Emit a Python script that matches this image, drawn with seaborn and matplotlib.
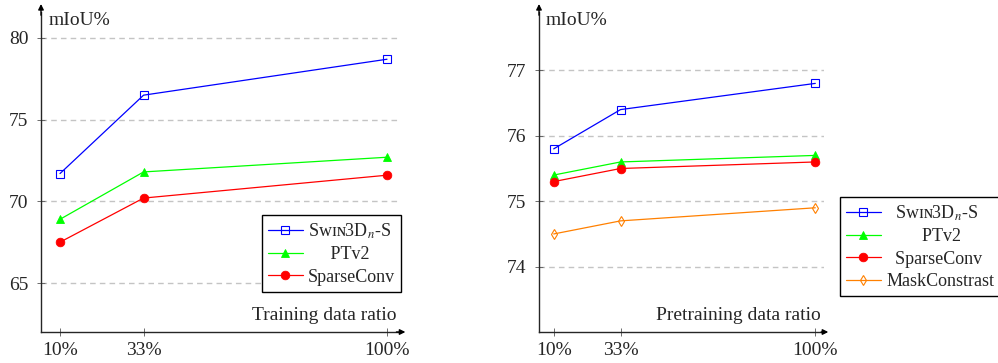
import numpy as np
import pandas as pd
import matplotlib
matplotlib.use("Agg")
import matplotlib.pyplot as plt
import seaborn as sns

# ---------------- data ----------------
ratio_ticks = [10, 33, 100]
ratio_labels = ["10%", "33%", "100%"]

# left panel: training data ratio
train_swin = [71.7, 76.5, 78.7]
train_ptv2 = [68.9, 71.8, 72.7]
train_sparse = [67.5, 70.2, 71.6]

# right panel: pretraining data ratio
pre_swin = [75.8, 76.4, 76.8]
pre_ptv2 = [75.4, 75.6, 75.7]
pre_sparse = [75.3, 75.5, 75.6]
pre_mask = [74.5, 74.7, 74.9]

left_yticks = [65, 70, 75, 80]
right_yticks = [74, 75, 76, 77]

name_swin = "S\u1d21\u026a\u0274" + "3D$_n$-S"
name_ptv2 = "PTv2"
name_sparse = "SparseConv"
name_mask = "MaskConstrast"

# ---------------- style ----------------
sns.set_style("ticks")
plt.rcParams["font.family"] = ["Liberation Serif", "DejaVu Serif"]
plt.rcParams["mathtext.fontset"] = "stix"
plt.rcParams["axes.linewidth"] = 1.0

W, H = 998, 363
fig = plt.figure(figsize=(W / 100, H / 100), dpi=100)


def px_axes(x0, x1, y0, y1):
    # y0 top, y1 bottom in pixels
    return fig.add_axes([x0 / W, 1 - y1 / H, (x1 - x0) / W, (y1 - y0) / H])


STY = {
    "swin": dict(color="#0000ff", marker="s", markersize=5.8, markerfacecolor="none",
                 markeredgecolor="#0000ff", markeredgewidth=0.8),
    "ptv2": dict(color="#00ff00", marker="^", markersize=6.2, markerfacecolor="#00ff00",
                 markeredgecolor="#00ff00", markeredgewidth=0.6),
    "sparse": dict(color="#ff0000", marker="o", markersize=6.2, markerfacecolor="#ff0000",
                   markeredgecolor="#ff0000", markeredgewidth=0.6),
    "mask": dict(color="#ff8000", marker="d", markersize=5.0, markerfacecolor="none",
                 markeredgecolor="#ff8000", markeredgewidth=0.8),
}


def draw_series(ax, y, label, key):
    df = pd.DataFrame({"ratio": ratio_ticks, "miou": y})
    sns.lineplot(data=df, x="ratio", y="miou", ax=ax, label=label, sort=False,
                 estimator=None, linewidth=0.9, **STY[key])


def style_axes(ax, yticks, xlabel):
    ax.set_xticks(ratio_ticks)
    ax.set_xticklabels(ratio_labels)
    ax.set_yticks(yticks)
    ax.set_xlabel("")
    ax.set_ylabel("")
    for s in ["top", "right"]:
        ax.spines[s].set_visible(False)
    ax.tick_params(axis="both", direction="inout", length=6, width=0.6,
                   color="#555555", labelsize=14)
    ax.tick_params(axis="x", pad=4)
    ax.tick_params(axis="y", pad=6)
    for yv in yticks:
        ax.axhline(yv, color="#c4c4c4", lw=1.0, dashes=(4, 3), zorder=0)
    # arrows on axes
    ax.annotate("", xy=(1.015, 0), xytext=(0.99, 0), xycoords="axes fraction",
                arrowprops=dict(arrowstyle="-|>", color="black", lw=1.0,
                                mutation_scale=8, shrinkA=0, shrinkB=0),
                annotation_clip=False)
    ax.annotate("", xy=(0, 1.025), xytext=(0, 0.99), xycoords="axes fraction",
                arrowprops=dict(arrowstyle="-|>", color="black", lw=1.0,
                                mutation_scale=8, shrinkA=0, shrinkB=0),
                annotation_clip=False)
    ax.text(0.022, 1.0, "mIoU%", transform=ax.transAxes, fontsize=14,
            ha="left", va="top")
    ax.text(0.99, 0.025, xlabel, transform=ax.transAxes, fontsize=14,
            ha="right", va="bottom")


# ---------------- left panel ----------------
axL = px_axes(41, 400, 12, 332)
draw_series(axL, train_swin, name_swin, "swin")
draw_series(axL, train_ptv2, "     " + name_ptv2, "ptv2")
draw_series(axL, train_sparse, name_sparse, "sparse")
kL = (387 - 60) / 90.0
axL.set_xlim(10 - (60 - 41) / kL, 10 + (400 - 60) / kL)
kyL = (283 - 38) / 15.0
axL.set_ylim(65 - (332 - 283) / kyL, 80 + (38 - 12) / kyL)
style_axes(axL, left_yticks, "Training data ratio")

legL = axL.legend(loc="upper left", bbox_to_anchor=(262 / W, 1 - 215 / H),
                  bbox_transform=fig.transFigure, borderaxespad=0, fontsize=13,
                  frameon=True, fancybox=False, edgecolor="black", framealpha=1,
                  handlelength=1.9, handletextpad=0.3, borderpad=0.35,
                  labelspacing=0.3)
legL.get_frame().set_linewidth(1.0)

# ---------------- right panel ----------------
axR = px_axes(539, 824, 12, 332)
draw_series(axR, pre_swin, "  " + name_swin, "swin")
draw_series(axR, pre_ptv2, "        " + name_ptv2, "ptv2")
draw_series(axR, pre_sparse, "  " + name_sparse, "sparse")
draw_series(axR, pre_mask, name_mask, "mask")
kR = (815.3 - 553.7) / 90.0
axR.set_xlim(10 - (553.7 - 539) / kR, 10 + (824 - 553.7) / kR)
kyR = (266.7 - 70.3) / 3.0
axR.set_ylim(74 - (332 - 266.7) / kyR, 77 + (70.3 - 12) / kyR)
style_axes(axR, right_yticks, "Pretraining data ratio")

legR = axR.legend(loc="upper left", bbox_to_anchor=(840 / W, 1 - 197 / H),
                  bbox_transform=fig.transFigure, borderaxespad=0, fontsize=13,
                  frameon=True, fancybox=False, edgecolor="black", framealpha=1,
                  handlelength=1.9, handletextpad=0.3, borderpad=0.35,
                  labelspacing=0.3)
legR.get_frame().set_linewidth(1.0)

fig.savefig("out.png", dpi=100)
